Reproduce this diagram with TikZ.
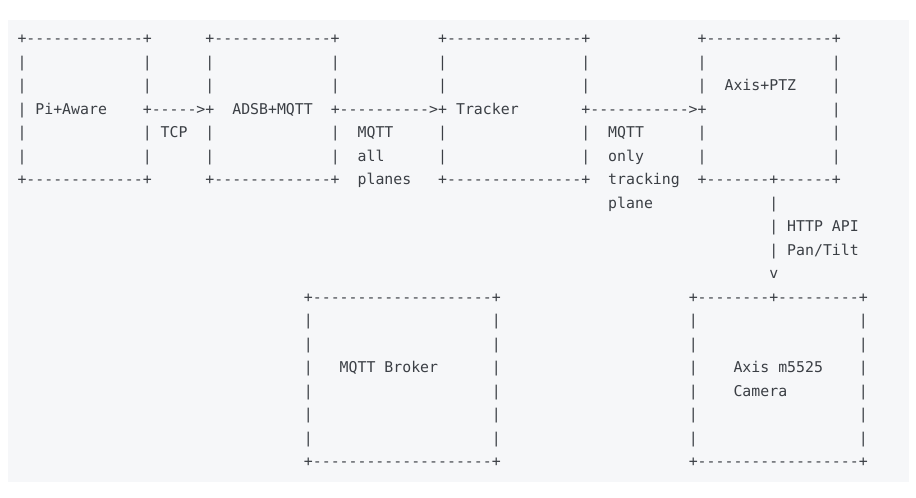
\documentclass[tikz,border=0pt]{standalone}
\usepackage{fontspec}
\setmonofont{DejaVu Sans Mono}
\definecolor{panel}{HTML}{F6F7F9}
\definecolor{ink}{HTML}{3B3F45}
\tikzset{asc/.style={anchor=base west,inner sep=0pt,outer sep=0pt,text=ink,
  font=\ttfamily\fontsize{14.866pt}{17pt}\selectfont}}
\newcommand\asc[3]{\node[asc] (r#2c#1) at ({17.5pt+#1*8.95pt},{-43.5pt-#2*23.5pt}) {#3};}
\begin{document}
\begin{tikzpicture}
\useasboundingbox[fill=white] (0,0) rectangle (916pt,-498pt);
\fill[panel] (8pt,-20pt) rectangle (909pt,-482pt);
% row 0
\asc{0}{0}{+-------------+}
\asc{21}{0}{+-------------+}
\asc{47}{0}{+---------------+}
\asc{76}{0}{+--------------+}
% rows 1,2,4,5 verticals of upper boxes
\foreach \r in {1,2,4,5}{
  \foreach \c in {0,14,21,35,47,63,76,91}{
    \asc{\c}{\r}{|}
  }
}
\asc{79}{2}{Axis+PTZ}
% row 3
\asc{0}{3}{|}
\asc{2}{3}{Pi+Aware}
\asc{14}{3}{+----->+}
\asc{24}{3}{ADSB+MQTT}
\asc{35}{3}{+---------->+}
\asc{49}{3}{Tracker}
\asc{63}{3}{+----------->+}
\asc{91}{3}{|}
% row 4,5 labels
\asc{16}{4}{TCP}
\asc{38}{4}{MQTT}
\asc{66}{4}{MQTT}
\asc{38}{5}{all}
\asc{66}{5}{only}
% row 6
\asc{0}{6}{+-------------+}
\asc{21}{6}{+-------------+}
\asc{38}{6}{planes}
\asc{47}{6}{+---------------+}
\asc{66}{6}{tracking}
\asc{76}{6}{+-------+------+}
% rows 7-10
\asc{66}{7}{plane}
\asc{84}{7}{|}
\asc{84}{8}{|}
\asc{86}{8}{HTTP API}
\asc{84}{9}{|}
\asc{86}{9}{Pan/Tilt}
\asc{84}{10}{v}
% lower boxes
\asc{32}{11}{+--------------------+}
\asc{75}{11}{+--------+---------+}
\foreach \r in {12,...,17}{
  \foreach \c in {32,53,75,94}{
    \asc{\c}{\r}{|}
  }
}
\asc{36}{14}{MQTT Broker}
\asc{80}{14}{Axis m5525}
\asc{80}{15}{Camera}
\asc{32}{18}{+--------------------+}
\asc{75}{18}{+------------------+}
\end{tikzpicture}
\end{document}
